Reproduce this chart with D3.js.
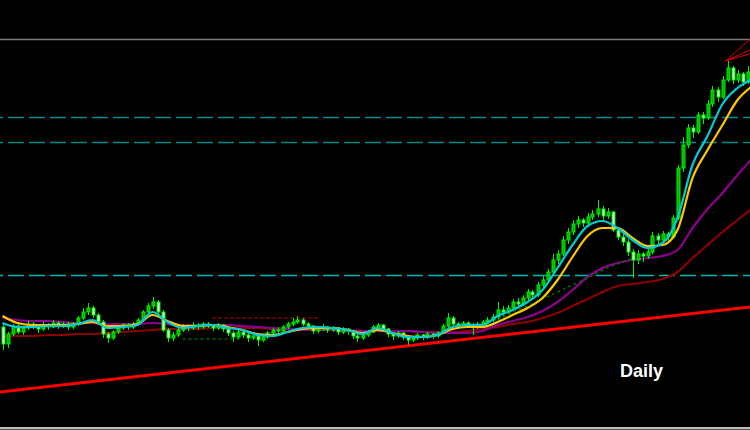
<!DOCTYPE html>
<html>
<head>
<meta charset="utf-8">
<script src="https://cdn.jsdelivr.net/npm/d3@7"></script>
<style>
  html, body { margin: 0; padding: 0; background: #000; overflow: hidden; }
</style>
</head>
<body>
<div id="chart"></div>
<script>
// daily chart: candles + moving averages + drawn levels

// candles, one row per day: [open, high, low, close]
const ohlc = [
  [103,106,80,86],[86,98,82,96],[96,106,94,104],[104,108,96,98],[98,104,95,102],
  [102,109,100,106],[106,108,101,104],[104,106,97,101],[101,108,99,105],[105,107,100,103],
  [103,110,102,107],[107,109,101,104],[104,108,102,106],[106,108,100,103],[103,108,101,106],
  [106,114,104,112],[112,122,110,118],[118,127,115,122],[122,124,112,115],[115,117,105,108],
  [108,110,92,96],[96,98,87,92],[92,100,90,98],[98,104,96,102],[102,107,100,105],
  [105,107,100,103],[103,108,101,106],[106,112,104,110],[110,120,108,118],[118,127,116,124],
  [124,133,121,128],[128,130,116,118],[118,120,98,100],[100,102,88,92],[92,98,89,95],
  [95,102,93,100],[100,106,98,104],[104,106,99,102],[102,108,100,105],[105,107,100,103],
  [103,108,101,106],[106,108,102,104],[104,106,99,102],[102,107,100,105],[105,106,98,101],
  [101,103,94,97],[97,99,88,93],[93,100,91,98],[98,100,92,95],[95,97,88,92],
  [92,97,90,94],[94,96,84,90],[90,95,88,93],[93,99,91,97],[97,102,95,100],
  [100,103,97,99],[99,105,98,103],[103,108,101,106],[106,112,104,108],[108,114,106,110],
  [110,112,104,106],[106,108,102,104],[104,105,96,99],[99,103,97,101],[101,106,99,103],
  [103,104,97,100],[100,104,98,102],[102,103,95,98],[98,103,96,101],[101,102,95,99],
  [99,100,91,94],[94,96,88,92],[92,97,90,95],[95,100,93,98],[98,105,97,103],
  [103,107,101,105],[105,106,99,101],[101,102,93,96],[96,98,90,94],[94,99,92,97],
  [97,98,90,93],[93,95,85,90],[90,94,88,92],[92,97,90,95],[95,96,90,93],
  [93,98,91,96],[96,97,91,94],[94,99,92,97],[97,106,96,104],[104,117,102,112],
  [112,114,104,106],[106,108,101,104],[104,109,102,107],[107,109,102,105],[105,107,95,103],
  [103,108,101,106],[106,110,104,108],[108,113,106,110],[110,116,108,113],[113,128,111,120],
  [120,124,114,118],[118,125,116,122],[122,131,120,128],[128,132,122,126],[126,135,124,132],
  [132,141,130,138],[138,140,131,135],[135,148,133,145],[145,154,142,150],[150,161,148,158],
  [158,176,156,170],[170,180,166,176],[176,194,174,190],[190,202,186,198],[198,210,195,206],
  [206,214,202,210],[210,212,203,207],[207,217,205,213],[213,220,210,216],[216,230,213,221],
  [221,224,210,214],[214,222,211,218],[218,219,198,200],[200,203,190,193],[193,197,184,188],
  [188,191,174,178],[178,181,152,170],[170,180,166,176],[176,178,168,174],[174,182,171,178],
  [178,198,176,194],[194,197,186,190],[190,199,188,196],[196,198,189,193],[193,215,191,212],
  [212,265,210,262],[262,293,258,285],[285,306,282,302],[302,305,292,298],[298,318,296,315],
  [315,318,306,312],[312,330,310,326],[326,344,323,340],[340,343,328,333],[333,354,331,350],
  [350,369,348,362],[362,364,346,350],[350,360,347,356],[356,358,344,348],[348,364,346,358]
];

// candle index at which each moving average value was read
const maIndex = [0,3,6,9,12,15,18,21,24,27,30,33,36,39,42,45,48,51,54,57,60,63,66,69,72,75,
  78,81,84,87,90,93,96,99,102,105,108,111,114,117,120,123,126,129,132,135,138,141,144,147,150];

const maFast = [107,103,103,104,104,106,110,102,103,105,118,108,102,104,105,102,100,95,94,98,
  102,103,102,100,96,102,97,93,93,95,103,105,105,114,120,128,140,162,185,204,209,202,190,182,187,
  212,265,294,326,342,351];
const maMid = [114,107,105,105,105,106,108,104,104,106,115,109,104,104,105,103,100,96,95,98,
  101,102,102,100,97,100,97,94,93,95,101,103,103,108,115,122,132,150,173,194,202,202,192,184,185,
  200,252,280,305,330,344];
const maSlow = [112,110,109,109,108,107,107,106,106,106,107,106,105,105,105,105,104,103,102,101,
  100,100,100,100,99,99,99,99,98,97,97,97,99,105,109,113,119,128,140,153,162,167,170,172,174,
  180,202,221,237,255,272];
const maLong = [93,94,94,95,95,96,96,97,98,99,100,101,101,101,102,102,102,102,101,101,
  101,100,100,99,99,99,99,99,98,98,98,99,101,103,106,108,112,117,124,131,138,144,146,148,151,
  158,172,185,198,210,222];

// dashed green signal line (only drawn on the rally)
const signalIndex = [99,102,105,108,111,114,117,120,123,126];
const signalValues = [110,118,124,131,138,145,152,160,166,172];

// full width levels
const levelPrices = [391, 313, 288, 155];
const levelKinds = ["solid", "teal", "teal", "cyan"];

// short dotted levels: [from index, to index, price]
const redDotted = [42, 63, 112];
const greenDotted = [36, 48, 91];

// trend line anchors
const trendIndex = [-1, 151];
const trendPrices = [37.7, 123.8];

// fan from the last high
const fanOrigin = [145, 369];
const fanEndIndex = 150;
const fanEndPrices = [393, 381, 377];

const width = 750;
const height = 430;

const svg = d3.select("#chart")
  .append("svg")
  .attr("width", width)
  .attr("height", height)
  .style("display", "block");

svg.append("rect")
  .attr("width", width)
  .attr("height", height)
  .attr("fill", "#000");

const x = d3.scaleLinear().domain([0, ohlc.length - 1]).range([2.5, 747.5]);
const y = d3.scaleLinear().domain([0, 430]).range([height, 0]);

// horizontal levels
const levelStyle = {
  solid: { color: "#77777f", dash: null },
  teal: { color: "#008c8c", dash: "16,5" },
  cyan: { color: "#00b8b8", dash: "16,5" }
};
levelPrices.forEach((p, i) => {
  const st = levelStyle[levelKinds[i]];
  svg.append("line")
    .attr("x1", 0).attr("x2", width)
    .attr("y1", Math.round(y(p)) + 0.5).attr("y2", Math.round(y(p)) + 0.5)
    .attr("stroke", st.color)
    .attr("stroke-width", 1.3)
    .attr("stroke-dasharray", st.dash)
    .attr("stroke-dashoffset", 13);
});

// short dotted levels
[[redDotted, "#a00000"], [greenDotted, "#006400"]].forEach(([lv, col]) => {
  svg.append("line")
    .attr("x1", x(lv[0])).attr("x2", x(lv[1]))
    .attr("y1", y(lv[2])).attr("y2", y(lv[2]))
    .attr("stroke", col)
    .attr("stroke-width", 1.5)
    .attr("stroke-dasharray", "3,3");
});

// red trend line
svg.append("line")
  .attr("x1", x(trendIndex[0])).attr("y1", y(trendPrices[0]))
  .attr("x2", x(trendIndex[1])).attr("y2", y(trendPrices[1]))
  .attr("stroke", "#ff0000")
  .attr("stroke-width", 3);

// moving averages
const line = d3.line()
  .x(d => x(d[0]))
  .y(d => y(d[1]))
  .curve(d3.curveMonotoneX);

function drawMA(values, color) {
  svg.append("path")
    .datum(maIndex.map((idx, i) => [idx, values[i]]))
    .attr("d", line)
    .attr("fill", "none")
    .attr("stroke", color)
    .attr("stroke-width", 2.2);
}

drawMA(maLong, "#8c0000");
drawMA(maSlow, "#8e008e");

svg.append("path")
  .datum(signalIndex.map((idx, i) => [idx, signalValues[i]]))
  .attr("d", line)
  .attr("fill", "none")
  .attr("stroke", "#006a00")
  .attr("stroke-width", 1.5)
  .attr("stroke-dasharray", "3,3");

// candles
const candles = svg.append("g");
const bodyW = 3;

candles.selectAll(".wick")
  .data(ohlc)
  .enter()
  .append("line")
  .attr("class", "wick")
  .attr("x1", (d, i) => Math.round(x(i)) + 0.5)
  .attr("x2", (d, i) => Math.round(x(i)) + 0.5)
  .attr("y1", d => y(d[1]))
  .attr("y2", d => y(d[2]))
  .attr("stroke", "#00f000")
  .attr("stroke-width", 1);

candles.selectAll(".body")
  .data(ohlc)
  .enter()
  .append("rect")
  .attr("class", "body")
  .attr("x", (d, i) => Math.round(x(i)) - 1)
  .attr("width", bodyW)
  .attr("y", d => y(Math.max(d[0], d[3])))
  .attr("height", d => Math.max(1, Math.abs(y(d[0]) - y(d[3]))))
  .attr("fill", d => d[3] >= d[0] ? "#00b400" : "#ccffcc")
  .attr("stroke", "#00f000")
  .attr("stroke-width", 1);

drawMA(maMid, "#ffc800");
drawMA(maFast, "#00ccd6");

// fan from the top
fanEndPrices.forEach(p => {
  svg.append("line")
    .attr("x1", x(fanOrigin[0]) - 2).attr("y1", y(fanOrigin[1]))
    .attr("x2", x(fanEndIndex)).attr("y2", y(p))
    .attr("stroke", "#e00000")
    .attr("stroke-width", 1);
});

// timeframe label
svg.append("text")
  .attr("x", 620)
  .attr("y", 377)
  .text("Daily")
  .style("font-family", "'Liberation Sans', Arial, sans-serif")
  .style("font-weight", "bold")
  .style("font-size", "18px")
  .style("fill", "#fff");

// window frame at the bottom
svg.append("rect").attr("x", 0).attr("y", 427).attr("width", width).attr("height", 2).attr("fill", "#c0c0c0");
svg.append("rect").attr("x", 0).attr("y", 429).attr("width", width).attr("height", 1).attr("fill", "#505050");
</script>
</body>
</html>
